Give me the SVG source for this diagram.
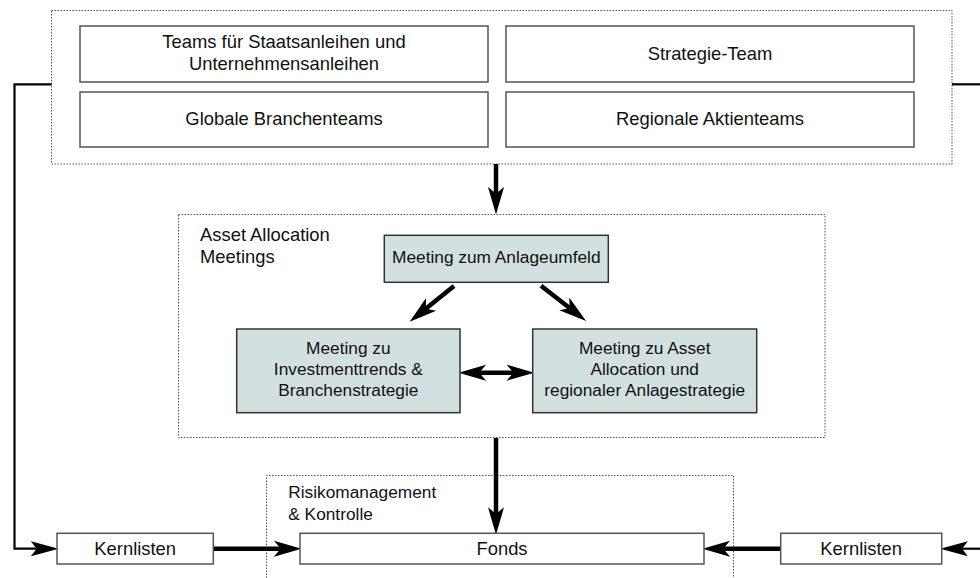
<svg xmlns="http://www.w3.org/2000/svg" width="980" height="578" viewBox="0 0 980 578">
<defs>
<style>
.t{font-family:"Liberation Sans",Arial,sans-serif;fill:#111;text-anchor:middle}
.t18{font-size:18.4px}
.t17{font-size:17.3px}
.box{fill:#fff;stroke:#555;stroke-width:1.5}
.mbox{fill:#d2e0e0;stroke:#333;stroke-width:1.5}
.grp{fill:none;stroke:#555;stroke-width:1;stroke-dasharray:1.5 1.5}
.thin{fill:none;stroke:#000;stroke-width:2.2}
.thick{fill:none;stroke:#000;stroke-width:4.5}
</style>
<marker id="ah" markerUnits="userSpaceOnUse" markerWidth="30" markerHeight="20" viewBox="0 -8 26 16" refX="14" refY="0" orient="auto-start-reverse">
<path d="M0,-7 L24,0 L0,7 L6,0 Z" fill="#000"/>
</marker>
<marker id="ahs" markerUnits="userSpaceOnUse" markerWidth="30" markerHeight="20" viewBox="0 -8 26 16" refX="14" refY="0" orient="auto">
<path d="M0,-6.5 L24,0 L0,6.5 L5,0 Z" fill="#000"/>
</marker>
</defs>

<g id="groups">
<rect id="teams-group" class="grp" x="51.5" y="10.5" width="900.5" height="153.5"/>
<rect id="meetings-group" class="grp" x="178.5" y="214.5" width="646.5" height="223"/>
<path id="risk-group" class="grp" d="M266.5,578 V475.5 H733.5 V578"/>
</g>

<g id="connectors">
<line class="thick" x1="496" y1="164" x2="496" y2="203" marker-end="url(#ah)"/>
<line class="thick" x1="454" y1="286" x2="418.6" y2="314.5" marker-end="url(#ah)"/>
<line class="thick" x1="541" y1="285.7" x2="577" y2="313.8" marker-end="url(#ah)"/>
<line class="thick" x1="470" y1="372.7" x2="522.7" y2="372.7" marker-start="url(#ah)" marker-end="url(#ah)"/>
<line class="thick" x1="496" y1="438" x2="496" y2="523.3" marker-end="url(#ah)"/>
<line class="thick" x1="213.3" y1="548.7" x2="290" y2="548.7" marker-end="url(#ah)"/>
<line class="thick" x1="780.7" y1="548.7" x2="714" y2="548.7" marker-end="url(#ah)"/>
<path class="thin" d="M51.5,84.3 H14.5 V548.7 H47" marker-end="url(#ahs)"/>
<line class="thin" x1="952" y1="84.3" x2="980" y2="84.3"/>
<line class="thin" x1="980" y1="548.7" x2="951.7" y2="548.7" marker-end="url(#ahs)"/>
</g>

<g id="node-teams-bonds">
<rect class="box" x="80" y="26" width="408" height="56"/>
<text class="t t18" x="284" y="48.3">Teams für Staatsanleihen und</text>
<text class="t t18" x="284" y="70">Unternehmensanleihen</text>
</g>
<g id="node-strategy">
<rect class="box" x="506" y="26" width="408" height="56"/>
<text class="t t18" x="710" y="59.5">Strategie-Team</text>
</g>
<g id="node-global-sector">
<rect class="box" x="80" y="92" width="408" height="55"/>
<text class="t t18" x="284" y="125">Globale Branchenteams</text>
</g>
<g id="node-regional-equity">
<rect class="box" x="506" y="92" width="408" height="55"/>
<text class="t t18" x="710" y="125">Regionale Aktienteams</text>
</g>

<g id="label-asset-allocation">
<text class="t t18" style="text-anchor:start" x="200" y="240.7">Asset Allocation</text>
<text class="t t18" style="text-anchor:start" x="200" y="263.3">Meetings</text>
</g>

<g id="node-meeting-environment">
<rect class="mbox" x="384.3" y="235.3" width="224" height="47"/>
<text class="t t17" x="496.3" y="263.3">Meeting zum Anlageumfeld</text>
</g>
<g id="node-meeting-trends">
<rect class="mbox" x="236.7" y="329" width="223.3" height="83.7"/>
<text class="t t17" x="348.3" y="354.3">Meeting zu</text>
<text class="t t17" x="348.3" y="375.3">Investmenttrends &amp;</text>
<text class="t t17" x="348.3" y="396">Branchenstrategie</text>
</g>
<g id="node-meeting-allocation">
<rect class="mbox" x="532.7" y="329" width="224" height="83.7"/>
<text class="t t17" x="644.7" y="354.3">Meeting zu Asset</text>
<text class="t t17" x="644.7" y="375.3">Allocation und</text>
<text class="t t17" x="644.7" y="396">regionaler Anlagestrategie</text>
</g>

<g id="label-risk">
<text class="t t17" style="text-anchor:start" x="288.3" y="498.3">Risikomanagement</text>
<text class="t t17" style="text-anchor:start" x="288.3" y="520">&amp; Kontrolle</text>
</g>

<g id="node-kernlisten-left">
<rect class="box" x="57" y="533.3" width="156.3" height="30.7"/>
<text class="t t18" x="135.2" y="554.5">Kernlisten</text>
</g>
<g id="node-fonds">
<rect class="box" x="300" y="533.3" width="404" height="30.7"/>
<text class="t t18" x="502" y="554.5">Fonds</text>
</g>
<g id="node-kernlisten-right">
<rect class="box" x="780.7" y="533.3" width="161" height="30.7"/>
<text class="t t18" x="861.2" y="554.5">Kernlisten</text>
</g>
</svg>
